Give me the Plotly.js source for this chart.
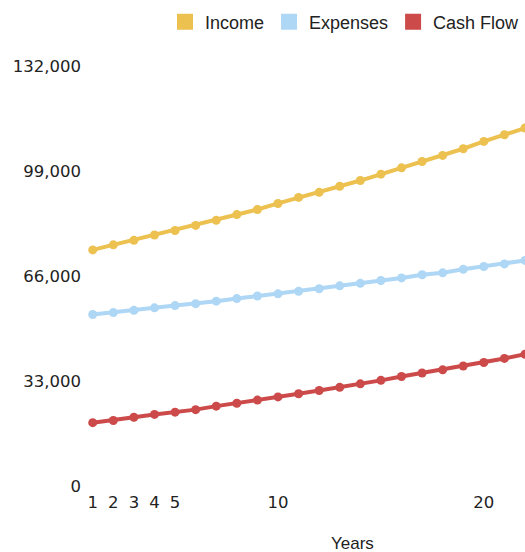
<!DOCTYPE html>
<html>
<head>
<meta charset="utf-8">
<script src="https://cdn.plot.ly/plotly-3.0.1.min.js"></script>
<style>
html, body { margin: 0; padding: 0; background: #fff; overflow: hidden; }
#chart { width: 525px; height: 552px; }
</style>
</head>
<body>
<div id="chart"></div>
<script>
// Data
const years = [1,2,3,4,5,6,7,8,9,10,11,12,13,14,15,16,17,18,19,20,21,22];
const income = [74200,75800,77200,78900,80300,81900,83500,85300,86900,88800,90700,92300,94200,96000,98000,100000,102000,103900,106000,108300,110400,112500];
const expenses = [53900,54500,55200,56000,56700,57300,58100,58900,59700,60400,61200,62000,62900,63700,64600,65400,66400,67000,68100,69000,69800,70900];
const cashFlow = [19900,20600,21600,22500,23200,24000,25100,26000,27000,28000,29000,30000,31000,32100,33200,34400,35500,36500,37700,38800,40100,41400];
const seriesNames = ["Income", "Expenses", "Cash Flow"];
const seriesColors = ["#ECC150", "#AED6F5", "#CC4A4A"];
const xTickVals = [1,2,3,4,5,10,20];
const yTickVals = [0,33000,66000,99000,132000];
const xTitle = "Years";

const allSeries = [income, expenses, cashFlow];
const font = "Liberation Sans, Arial, sans-serif";
const tickFontFamily = "DejaVu Sans, sans-serif";

const traces = [];
allSeries.forEach((vals, i) => {
  traces.push({
    x: years, y: vals, type: "scatter", mode: "lines+markers",
    name: seriesNames[i], showlegend: false,
    line: { color: seriesColors[i], width: 4 },
    marker: { color: seriesColors[i], size: 9 },
    hoverinfo: "x+y+name"
  });
});
// legend entries with square swatches
allSeries.forEach((vals, i) => {
  traces.push({
    x: [null], y: [null], type: "scatter", mode: "markers",
    name: seriesNames[i], showlegend: true,
    marker: { color: seriesColors[i], size: 19, symbol: "square" }
  });
});

const layout = {
  width: 525, height: 552,
  margin: { l: 88, r: 0, t: 66, b: 66, pad: 0 },
  paper_bgcolor: "#fff", plot_bgcolor: "#fff",
  font: { family: font, size: 17, color: "#222" },
  showlegend: true,
  legend: {
    orientation: "h", x: 1, xanchor: "right",
    y: 1 - 22 / 552, yanchor: "middle", yref: "container",
    font: { family: font, size: 18, color: "#222" },
    itemgap: 9, bgcolor: "rgba(0,0,0,0)"
  },
  xaxis: {
    range: [0.77, 22.0],
    tickvals: xTickVals,
    ticktext: xTickVals.map(String),
    showgrid: false, zeroline: false, showline: false, ticks: "",
    tickfont: { family: tickFontFamily, size: 16.5, color: "#222" },
    ticklabelstandoff: 4,
    fixedrange: true
  },
  yaxis: {
    range: [0, 132000],
    tickvals: yTickVals,
    ticktext: yTickVals.map(v => v.toLocaleString("en-US")),
    showgrid: false, zeroline: false, showline: false, ticks: "",
    tickfont: { family: tickFontFamily, size: 16.5, color: "#222" },
    ticklabelstandoff: 6,
    fixedrange: true
  },
  annotations: [{
    text: xTitle, xref: "paper", yref: "paper",
    x: (352 - 88) / 437, y: 0, yshift: -57,
    xanchor: "center", yanchor: "middle", showarrow: false,
    font: { family: font, size: 17, color: "#222" }
  }]
};

Plotly.newPlot("chart", traces, layout, { displayModeBar: false });
</script>
</body>
</html>
